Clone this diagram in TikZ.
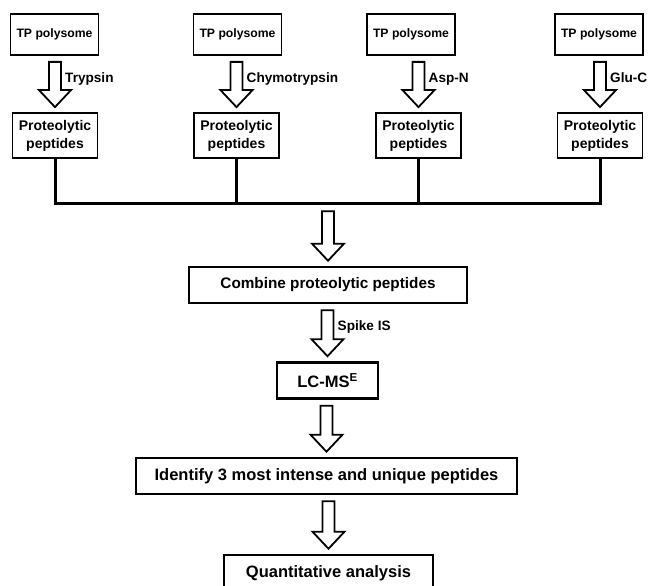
\documentclass[tikz,border=0pt]{standalone}
\usepackage{fontspec}
\setmainfont{Liberation Sans}
\usetikzlibrary{calc}

% hollow block arrow from the foot of #1 to the head of #2
\newcommand{\fatarrow}[2]{%
    \path (#2.north |- #1.south) ++(0,-6) coordinate (fs)
          (#2.north) ++(0,5) coordinate (fe);
    \draw[fatline] ($(fs)+(-6,0)$) -- ($(fe)+(-6,17)$) -- ($(fe)+(-16,17)$)
        -- (fe) -- ($(fe)+(16,17)$) -- ($(fe)+(6,17)$) -- ($(fs)+(6,0)$) -- cycle;
}

\begin{document}
\begin{tikzpicture}[x=1pt, y=1pt,
    tpbox/.style={draw, line width=1.8pt, minimum width=88pt, minimum height=41pt,
        inner sep=0pt, font=\fontsize{12.2}{14}\selectfont\bfseries},
    pepbox/.style={draw, line width=1.8pt, minimum width=85pt, minimum height=45pt,
        inner sep=0pt, align=center, font=\fontsize{14}{18}\selectfont\bfseries},
    stepbox/.style={draw, line width=2.6pt, minimum height=36pt, inner sep=0pt,
        font=\fontsize{16.5}{19}\selectfont\bfseries},
    enzlabel/.style={inner sep=0pt, anchor=base west,
        font=\fontsize{13.6}{16}\selectfont\bfseries},
    fatline/.style={draw, fill=white, line width=1.8pt, line join=miter},
    bar/.style={line width=3pt}]
    \useasboundingbox (0,0) rectangle (651,-586);

    % Digestion columns
    \foreach \i/\xt/\xp/\enz in {1/54.5/55/Trypsin, 2/237.5/236.5/Chymotrypsin,
                                 3/411/418.5/Asp-N, 4/599/600/Glu-C} {
        \node[tpbox] (tp\i) at (\xt,-34.5) {TP polysome};
        \node[pepbox] (pep\i) at (\xp,-135.5) {Proteolytic\\peptides};
        \fatarrow{tp\i}{pep\i}
        \node[enzlabel] (enz\i) at ($(fs)+(10,-21)$) {\enz};
    }

    % Pooling bar
    \node[inner sep=0pt, minimum size=3pt] (join) at (327.5,-203.5) {};
    \draw[bar] (pep1.south) |- (join.center) -| (pep4.south);
    \draw[bar] (pep2.south) -- (pep2.south |- join.center);
    \draw[bar] (pep3.south) -- (pep3.south |- join.center);

    % Workflow steps
    \node[stepbox, minimum width=278pt, font=\fontsize{15.3}{18}\selectfont\bfseries]
        (combine) at (328,-285) {Combine proteolytic peptides};
    \node[stepbox, minimum width=101pt] (lcms) at (327.5,-380.5) {LC-MS\textsuperscript{E}};
    \node[stepbox, minimum width=381pt] (ident) at (326.5,-476) {Identify 3 most intense and unique peptides};
    \node[stepbox, minimum width=209pt] (quant) at (328.5,-573) {Quantitative analysis};

    \fatarrow{join}{combine}
    \fatarrow{combine}{lcms}
    \node[enzlabel] (spike) at ($(fs)+(10,-20)$) {Spike IS};
    \fatarrow{lcms}{ident}
    \fatarrow{ident}{quant}
\end{tikzpicture}
\end{document}
